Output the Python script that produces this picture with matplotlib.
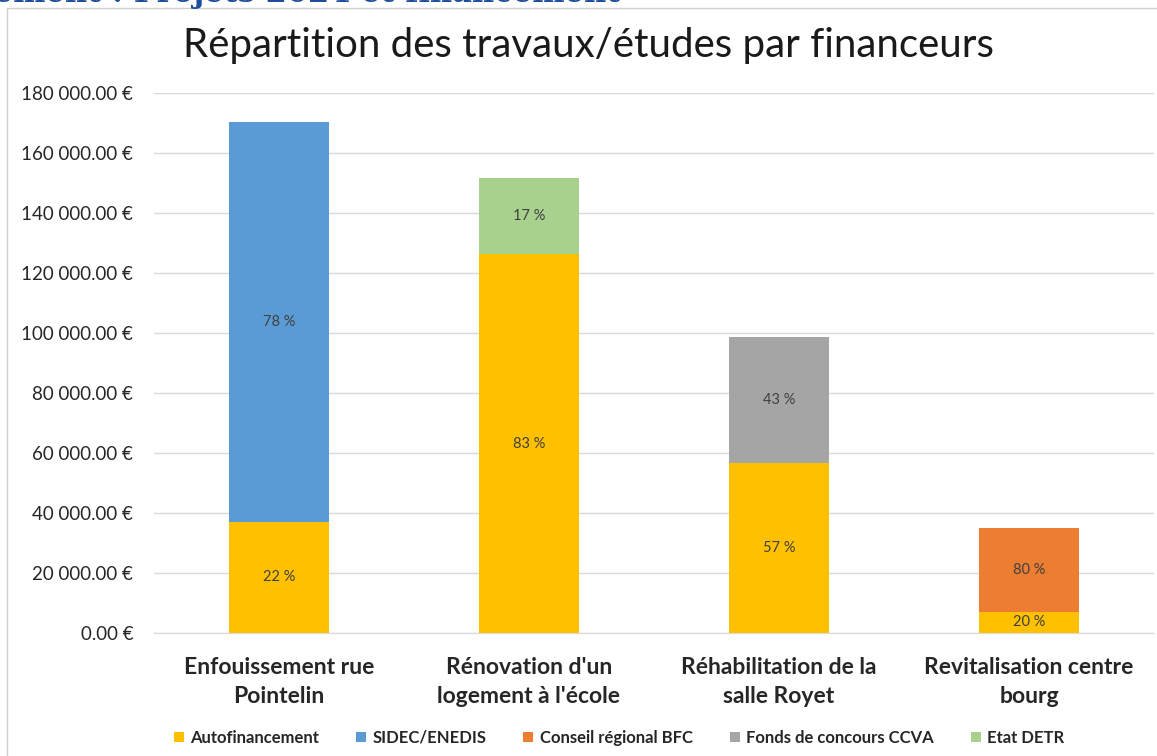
import matplotlib
matplotlib.use("Agg")
import matplotlib.pyplot as plt
from matplotlib.patches import Rectangle
from matplotlib.ticker import FuncFormatter

plt.rcParams['font.family'] = ['Lato', 'DejaVu Sans']

projets = ["Enfouissement rue\nPointelin", "Rénovation d'un\nlogement à l'école",
           "Réhabilitation de la\nsalle Royet", "Revitalisation centre\nbourg"]
autofinancement = [37000, 126300, 56700, 7000]
sidec_enedis = [133300, 0, 0, 0]
conseil_bfc = [0, 0, 0, 28000]
fonds_ccva = [0, 0, 42000, 0]
etat_detr = [0, 25400, 0, 0]

series = [("Autofinancement", autofinancement, "#FFC000"),
          ("SIDEC/ENEDIS", sidec_enedis, "#5B9BD5"),
          ("Conseil régional BFC", conseil_bfc, "#ED7D31"),
          ("Fonds de concours CCVA", fonds_ccva, "#A5A5A5"),
          ("Etat DETR", etat_detr, "#A9D18E")]

totaux = [sum(s[1][i] for s in series) for i in range(len(projets))]

fig = plt.figure(figsize=(11.57, 7.56), dpi=100)
ax = fig.add_axes([0.1331, 0.1627, 0.8643, 0.7143])
ax.set_zorder(2)

# cadre du graphique et bout du titre de la diapo coupé en haut
cadre = Rectangle((7 / 1157, -0.1), 1.2, 1 - 8 / 756 + 0.1,
                  transform=fig.transFigure, facecolor="white",
                  edgecolor="#d0d0d0", linewidth=1, zorder=-1)
fig.patches.append(cadre)
fig.text(620 / 1157, 1 - 2 / 756, "Investissement : Projets 2024 et financement",
         ha="right", va="baseline", fontsize=22, fontweight="bold",
         color="#1F4E9E", family="DejaVu Serif")

x = list(range(len(projets)))
bas = [0] * len(projets)
for nom, vals, couleur in series:
    ax.bar(x, vals, width=0.4, bottom=bas, color=couleur, label=nom, zorder=2)
    for i, v in enumerate(vals):
        if v > 0:
            pct = round(v / totaux[i] * 100)
            ax.text(i, bas[i] + v / 2, f"{pct} %", ha="center", va="center",
                    fontsize=10.5, color="#404040", zorder=3)
    bas = [b + v for b, v in zip(bas, vals)]

ax.set_xlim(-0.5, 3.5)
ax.set_ylim(0, 180000)
ax.set_yticks(range(0, 180001, 20000))
ax.yaxis.set_major_formatter(FuncFormatter(lambda v, p: f"{v:,.2f} €".replace(",", " ")))
ax.grid(axis="y", color="#d9d9d9", linewidth=1, zorder=0)
ax.set_axisbelow(True)
ax.patch.set_alpha(0)
for s in ["top", "right", "left"]:
    ax.spines[s].set_visible(False)
ax.spines["bottom"].set_color("#d9d9d9")
ax.tick_params(axis="y", length=0, pad=15, labelsize=13.5, labelcolor="#262626")
ax.tick_params(axis="x", length=0, pad=17)
ax.set_xticks(x)
ax.set_xticklabels(projets, fontsize=16.5, fontweight="bold", color="#262626",
                   linespacing=1.5)

fig.text(0.509, 0.94, "Répartition des travaux/études par financeurs", ha="center",
         va="center", fontsize=29, color="#1a1a1a")

leg = ax.legend(loc="center", bbox_to_anchor=(0.465, -0.194), ncol=5, frameon=False,
                fontsize=12, handlelength=0.6, handleheight=0.6, columnspacing=2.2,
                handletextpad=0.4, labelcolor="#262626")
for t in leg.get_texts():
    t.set_fontweight("bold")

fig.savefig("out.png", dpi=100)
